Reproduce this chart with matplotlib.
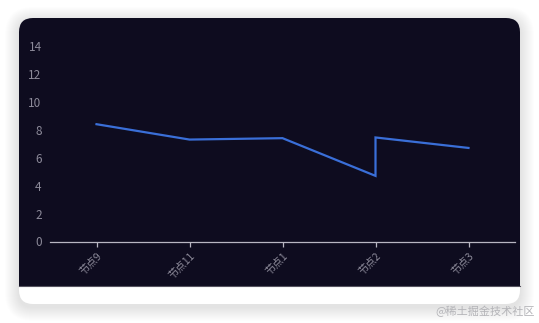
import matplotlib
matplotlib.use("Agg")
import matplotlib.pyplot as plt
from matplotlib.patches import FancyBboxPatch, Rectangle

plt.rcParams['font.family'] = ['Noto Sans CJK SC', 'DejaVu Sans']

# data
tick_labels = ['节点9', '节点11', '节点1', '节点2', '节点3']
x_pos = [0, 1, 2, 3, 3, 4]
values = [8.4, 7.3, 7.4, 4.7, 7.45, 6.7]
y_ticks = [0, 2, 4, 6, 8, 10, 12, 14]

W, H = 539, 323
fig = plt.figure(figsize=(W / 100, H / 100), dpi=100)
fig.patch.set_facecolor('white')

# background layer in pixel coordinates
bg = fig.add_axes([0, 0, 1, 1])
bg.set_xlim(0, W)
bg.set_ylim(H, 0)
bg.axis('off')

cx0, cx1, cy0, cy1 = 19, 520, 18, 304
r = 14
# soft shadow
for g in range(14, 0, -1):
    bg.add_patch(FancyBboxPatch((cx0 - g, cy0 - g + 3), (cx1 - cx0) + 2 * g, (cy1 - cy0) + 2 * g,
                                boxstyle=f"round,pad=0,rounding_size={r + g}",
                                facecolor='black', edgecolor='none', alpha=0.007))
# white card
bg.add_patch(FancyBboxPatch((cx0, cy0), cx1 - cx0, cy1 - cy0,
                            boxstyle=f"round,pad=0,rounding_size={r}",
                            facecolor='white', edgecolor='none'))
dark = '#0e0c1f'
bg.add_patch(FancyBboxPatch((cx0, cy0), cx1 - cx0, 286 - cy0,
                            boxstyle=f"round,pad=0,rounding_size={r}",
                            facecolor=dark, edgecolor='none'))
bg.add_patch(Rectangle((cx0, 286 - 2 * r), cx1 - cx0, 2 * r, facecolor=dark, edgecolor='none'))
bg.plot([cx0, cx1], [286.3, 286.3], color='#55535f', lw=0.8)

bg.text(535, 311, '@稀土掘金技术社区', color='#b4b4b8', fontsize=8, ha='right', va='center')

# chart axes
ax_l, ax_r, ax_b, ax_t = 50, 515, 241.5, 46
ax = fig.add_axes([ax_l / W, (H - ax_b) / H, (ax_r - ax_l) / W, (ax_b - ax_t) / H])
ax.set_facecolor('none')
ax.plot(x_pos, values, color='#3a6fd8', lw=1.6, solid_joinstyle='miter')
ax.set_xlim(-0.5, 4.5)
ax.set_ylim(0, 14)
ax.set_yticks(y_ticks)
ax.set_yticklabels([str(v) for v in y_ticks])
ax.set_xticks(range(len(tick_labels)))
ax.set_xticklabels(tick_labels, rotation=45, ha='right', rotation_mode='anchor')

for s in ['top', 'right', 'left']:
    ax.spines[s].set_visible(False)
ax.spines['bottom'].set_color('#b8b6c2')
ax.spines['bottom'].set_linewidth(0.9)
ax.tick_params(axis='y', length=0, pad=6, labelsize=8.5, labelcolor='#8c8a99')
ax.tick_params(axis='x', length=3.5, width=0.9, color='#b8b6c2', pad=3, labelsize=7.5, labelcolor='#8c8a99')

fig.savefig('out.png', dpi=100)
